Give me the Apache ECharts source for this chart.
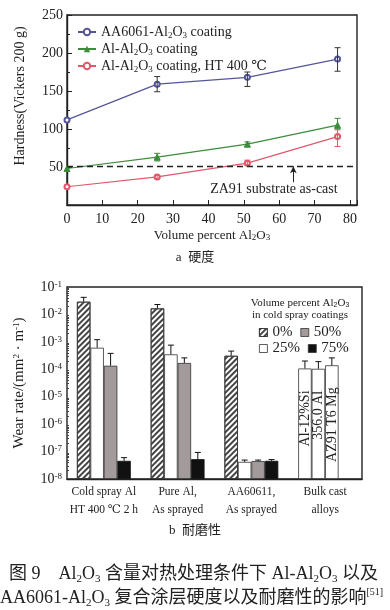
<!DOCTYPE html>
<html><head><meta charset="utf-8">
<script src="https://cdn.jsdelivr.net/npm/echarts@6/dist/echarts.min.js"></script>
<style>html,body{margin:0;padding:0;background:#fff}#c{width:390px;height:610px}</style>
</head><body><div id="c"></div>
<script>
// ---------- Panel a: hardness ----------
const volPercent = [0, 25.5, 51, 76.5];
const hardAA6061 = [112, 159, 168, 192];
const hardAl = [48, 63, 80, 105];
const hardAlHT = [24, 37, 55, 90];
const errAA6061 = [null, [149, 169], [156, 175], [176, 207]];
const errAl = [null, [58, 68], [77, 83], [100, 114]];
const errAlHT = [null, [35, 39], [53, 59], [77, 99]];
const substrateHardness = 51;
const hardnessNames = ['AA6061-Al2O3 coating', 'Al-Al2O3 coating', 'Al-Al2O3 coating, HT 400 ℃'];

// ---------- Panel b: wear rate ----------
const wearCats = ['Cold spray Al\nHT 400 ℃ 2 h', 'Pure Al,\nAs sprayed', 'AA60611,\nAs sprayed', 'Bulk cast\nalloys'];
const wearSeriesNames = ['0%', '25%', '50%', '75%'];
const wear0 = [2.9e-2, 1.66e-2, 3.1e-4, null];
const wear25 = [6.1e-4, 3.5e-4, 4.2e-8, null];
const wear50 = [1.35e-4, 1.7e-4, 4.5e-8, null];
const wear75 = [4.6e-8, 5.3e-8, 4.6e-8, null];
const wearErr0 = [4.2e-2, 2.3e-2, 4.6e-4, null];
const wearErr25 = [1.2e-3, 7.6e-4, 4.9e-8, null];
const wearErr50 = [3.8e-4, 2.6e-4, 4.9e-8, null];
const wearErr75 = [6.0e-8, 9.3e-8, 5.1e-8, null];
const bulkWear = [1.07e-4, 1.04e-4, 1.4e-4];
const bulkErr = [2.0e-4, 1.9e-4, 2.6e-4];
const bulkNames = ['Al-12%Si', '356.0 Al', 'AZ91 T6 Mg'];
const wearMin = 1e-8, wearMax = 1e-1;

const SERIF = 'Liberation Serif, DejaVu Serif, serif';
const TXT = '#222';
const chart = echarts.init(document.getElementById('c'), null, {renderer: 'canvas'});

function subFmt(name) { return name.replace(/Al2O3/g, 'Al{s|2}O{s|3}'); }

function hardErrRender(color) {
  return function (params, api) {
    const x = api.value(0), lo = api.value(1), hi = api.value(2);
    const p1 = api.coord([x, lo]), p2 = api.coord([x, hi]);
    const c = 3;
    const st = {stroke: color, lineWidth: 1};
    return {type: 'group', children: [
      {type: 'line', shape: {x1: p1[0], y1: p1[1], x2: p2[0], y2: p2[1]}, style: st},
      {type: 'line', shape: {x1: p1[0] - c, y1: p1[1], x2: p1[0] + c, y2: p1[1]}, style: st},
      {type: 'line', shape: {x1: p2[0] - c, y1: p2[1], x2: p2[0] + c, y2: p2[1]}, style: st}
    ]};
  };
}
function errData(errs) {
  const out = [];
  errs.forEach((e, i) => { if (e) out.push([volPercent[i], e[0], e[1]]); });
  return out;
}

const hardColors = ['#55559a', '#3c8c3c', '#e2576b'];
const hardValues = [hardAA6061, hardAl, hardAlHT];
const hardErrs = [errAA6061, errAl, errAlHT];
const hardSymbols = ['emptyCircle', 'triangle', 'emptyCircle'];

const series = [];
hardValues.forEach((vals, k) => {
  const s = {
    name: hardnessNames[k], type: 'line', xAxisIndex: 0, yAxisIndex: 0,
    data: vals.map((v, i) => [volPercent[i], v]),
    symbol: hardSymbols[k], symbolSize: k === 1 ? 6 : 5, showSymbol: true,
    lineStyle: {color: hardColors[k], width: 1.2},
    itemStyle: {color: hardColors[k], borderColor: hardColors[k]},
    z: 3
  };
  if (k === 0) {
    s.markLine = {
      silent: true, symbol: ['none', 'none'], animation: false,
      label: {show: false},
      data: [
        {yAxis: substrateHardness, lineStyle: {color: '#222', type: [6, 4], width: 1.4}},
        [{coord: [64, 30], symbol: 'none', lineStyle: {color: '#222', type: 'solid', width: 1}},
         {coord: [64, substrateHardness], symbol: 'arrow', symbolSize: [5, 7]}]
      ]
    };
    s.markPoint = {
      silent: true, symbol: 'rect', symbolSize: 1, itemStyle: {color: 'rgba(0,0,0,0)'},
      data: [{coord: [58.5, 20], label: {show: true, position: 'inside', formatter: 'ZA91 substrate as-cast',
        fontFamily: SERIF, fontSize: 14, color: TXT}}]
    };
  }
  series.push(s);
  series.push({
    type: 'custom', xAxisIndex: 0, yAxisIndex: 0, silent: true, z: 4,
    renderItem: hardErrRender(k === 0 ? '#333' : hardColors[k]),
    data: errData(hardErrs[k])
  });
});

// wear bars
const wearVals = [wear0, wear25, wear50, wear75];
const wearErrs = [wearErr0, wearErr25, wearErr50, wearErr75];
const hatch = {symbol: 'rect', symbolSize: 1, color: '#444', dashArrayX: [1, 0], dashArrayY: [1.3, 2], rotation: -Math.PI / 4};
const barStyles = [
  {color: '#ffffff', borderColor: '#333', borderWidth: 0.8, decal: hatch},
  {color: '#ffffff', borderColor: '#333', borderWidth: 0.8},
  {color: '#a39b9b', borderColor: '#333', borderWidth: 0.8},
  {color: '#111111', borderColor: '#111', borderWidth: 0.8}
];
wearVals.forEach((vals, k) => {
  const data = vals.map((v, i) => {
    if (i === 3 && k < bulkWear.length) {
      return {value: bulkWear[k], itemStyle: {color: '#fff', borderColor: '#333', borderWidth: 0.8},
        label: {show: true, position: 'insideTop', rotate: 90, align: 'right', verticalAlign: 'middle', distance: 22,
          formatter: bulkNames[k], fontFamily: SERIF, fontSize: 14, color: TXT}};
    }
    return {value: v, itemStyle: barStyles[k]};
  });
  series.push({
    name: wearSeriesNames[k], type: 'bar', xAxisIndex: 1, yAxisIndex: 1,
    data: data, barGap: '0%', barCategoryGap: '27%',
    itemStyle: {color: barStyles[k].color, borderColor: barStyles[k].borderColor, borderWidth: 0.8}, z: 2
  });
});
const wearErrData = [];
wearErrs.forEach((errs, k) => {
  errs.forEach((e, i) => { if (e) wearErrData.push([i, k, wearVals[k][i], e]); });
});
bulkErr.forEach((e, k) => wearErrData.push([3, k, bulkWear[k], e]));
series.push({
  type: 'custom', xAxisIndex: 1, yAxisIndex: 1, silent: true, z: 5,
  renderItem: function (params, api) {
    const cat = api.value(0), slot = api.value(1), base = api.value(2), top = api.value(3);
    const band = api.size([1, 1])[0];
    const gw = band * (1 - 0.27), bw = gw / 4;
    const center = api.coord([cat, base]);
    const x = center[0] - gw / 2 + bw * (slot + 0.5);
    const yb = center[1], yt = api.coord([cat, top])[1];
    const st = {stroke: '#111', lineWidth: 1};
    return {type: 'group', children: [
      {type: 'line', shape: {x1: x, y1: yb, x2: x, y2: yt}, style: st},
      {type: 'line', shape: {x1: x - 3, y1: yt, x2: x + 3, y2: yt}, style: st}
    ]};
  },
  data: wearErrData
});

const sup = {fontSize: 9, fontFamily: SERIF, color: TXT, verticalAlign: 'top', lineHeight: 10};
const subS = {fontSize: 9, fontFamily: SERIF, color: TXT, verticalAlign: 'bottom', lineHeight: 12};
const legendBarStyle = (k) => ({color: barStyles[k].color, borderColor: '#333', borderWidth: 0.8, decal: barStyles[k].decal || null});

const option = {
  animation: false,
  backgroundColor: '#fff',
  textStyle: {fontFamily: SERIF, color: TXT},
  grid: [
    {left: 67, top: 15, width: 290, height: 190, show: true, borderColor: '#222', borderWidth: 1.4, backgroundColor: 'transparent'},
    {left: 67, top: 287, width: 295, height: 192, show: true, borderColor: '#222', borderWidth: 1.4, backgroundColor: 'transparent'}
  ],
  legend: [
    {data: hardnessNames, orient: 'vertical', left: 72, top: 19, itemGap: 1, itemWidth: 18, itemHeight: 8,
     textStyle: {fontFamily: SERIF, fontSize: 14, color: TXT, lineHeight: 16, rich: {s: subS}},
     formatter: subFmt},
    {data: [{name: '0%', itemStyle: legendBarStyle(0)}, {name: '50%', itemStyle: legendBarStyle(2)}],
     left: 254, top: 320, itemGap: 8, itemWidth: 8, itemHeight: 8, icon: 'rect',
     textStyle: {fontFamily: SERIF, fontSize: 15, color: TXT, width: 28, align: 'right'}},
    {data: [{name: '25%', itemStyle: legendBarStyle(1)}, {name: '75%', itemStyle: legendBarStyle(3)}],
     left: 254, top: 336, itemGap: 8, itemWidth: 8, itemHeight: 8, icon: 'rect',
     textStyle: {fontFamily: SERIF, fontSize: 15, color: TXT, width: 28, align: 'right'}}
  ],
  xAxis: [
    {type: 'value', gridIndex: 0, min: 0, max: 82, interval: 10,
     name: 'Volume percent Al{s|2}O{s|3}', nameLocation: 'middle', nameGap: 24,
     nameTextStyle: {fontFamily: SERIF, fontSize: 13, color: TXT, rich: {s: subS}},
     axisLine: {lineStyle: {color: '#222', width: 1.4}},
     axisTick: {inside: true, length: 5, lineStyle: {color: '#222'}},
     axisLabel: {fontFamily: SERIF, fontSize: 14, color: TXT, margin: 7,
       formatter: v => (v % 10 === 0 ? String(v) : '')},
     splitLine: {show: false}},
    {type: 'category', gridIndex: 1, data: wearCats,
     axisLine: {lineStyle: {color: '#222', width: 1.4}},
     axisTick: {show: false},
     axisLabel: {interval: 0, fontFamily: SERIF, fontSize: 11.5, color: TXT, lineHeight: 18, margin: 4}}
  ],
  yAxis: [
    {type: 'value', gridIndex: 0, min: 0, max: 250, interval: 50,
     name: 'Hardness(Vickers 200 g)', nameLocation: 'middle', nameGap: 40,
     nameTextStyle: {fontFamily: SERIF, fontSize: 14, color: TXT, padding: [0, 0, 0, 28]},
     axisLine: {lineStyle: {color: '#222', width: 1.4}},
     axisTick: {inside: true, length: 5, lineStyle: {color: '#222'}},
     minorTick: {show: true, splitNumber: 2, length: 3, lineStyle: {color: '#222'}},
     axisLabel: {fontFamily: SERIF, fontSize: 14, color: TXT, margin: 4, showMinLabel: false},
     splitLine: {show: false}},
    {type: 'log', gridIndex: 1, min: wearMin, max: wearMax, logBase: 10, startValue: wearMin,
     name: 'Wear rate/(mm{p|2} · m{p|-1})', nameLocation: 'middle', nameGap: 40,
     nameTextStyle: {fontFamily: SERIF, fontSize: 15, color: TXT, rich: {p: sup}},
     axisLine: {lineStyle: {color: '#222', width: 1.4}},
     axisTick: {inside: true, length: 5, lineStyle: {color: '#222'}},
     minorTick: {show: true, splitNumber: 9, length: 2, lineStyle: {color: '#444'}},
     axisLabel: {fontFamily: SERIF, fontSize: 14, color: TXT, margin: 5,
       formatter: v => '10{p|' + Math.round(Math.log10(v)) + '}', rich: {p: sup}},
     splitLine: {show: false}}
  ],
  graphic: [
    {type: 'text', left: 'center', top: 251, style: {text: 'a  硬度', font: '13px Liberation Serif, Noto Sans CJK SC', fill: TXT}},
    {type: 'text', x: 300, y: 297, style: {text: 'Volume percent Al{s|2}O{s|3}\nin cold spray coatings', align: 'center',
      font: '11px Liberation Serif', fill: TXT, lineHeight: 12, rich: {s: {fontSize: 7, verticalAlign: 'bottom', lineHeight: 12}}}},
    {type: 'text', left: 'center', top: 524, style: {text: 'b  耐磨性', font: '13px Liberation Serif, Noto Sans CJK SC', fill: TXT}},
    {type: 'text', x: 9, y: 563, style: {text: '图 9　Al{s|2}O{s|3} 含量对热处理条件下 Al-Al{s|2}O{s|3} 以及',
      font: '18px Liberation Serif, Noto Sans CJK SC', fill: TXT, lineHeight: 22,
      rich: {s: {fontSize: 11, verticalAlign: 'bottom', lineHeight: 20, fontFamily: SERIF}}}},
    {type: 'text', x: 0, y: 587, style: {text: 'AA6061-Al{s|2}O{s|3} 复合涂层硬度以及耐磨性的影响{p|[51]}',
      font: '18px Liberation Serif, Noto Sans CJK SC', fill: TXT, lineHeight: 22,
      rich: {s: {fontSize: 11, verticalAlign: 'bottom', lineHeight: 20, fontFamily: SERIF},
             p: {fontSize: 10, verticalAlign: 'top', lineHeight: 22, fontFamily: SERIF}}}}
  ],
  series: series
};
chart.setOption(option);
</script></body></html>
